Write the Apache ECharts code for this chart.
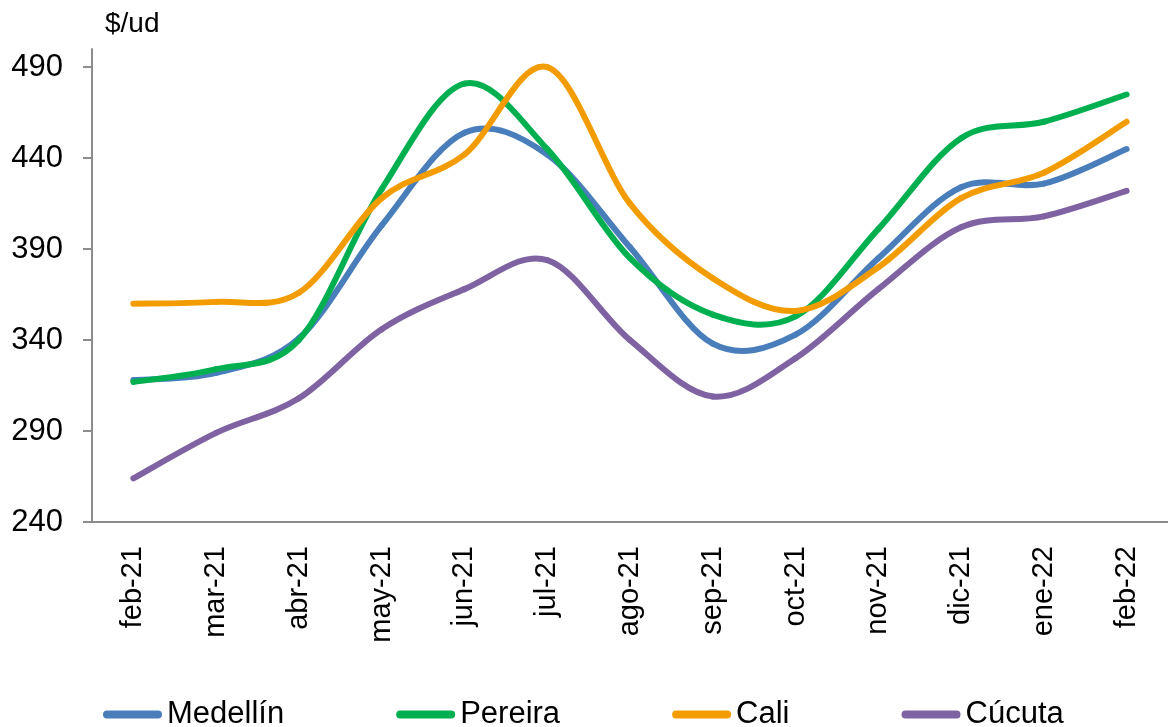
<!DOCTYPE html>
<html>
<head>
<meta charset="utf-8">
<script src="https://cdn.jsdelivr.net/npm/echarts@6/dist/echarts.min.js"></script>
<style>
  html, body { margin: 0; padding: 0; background: #fff; }
  #chart { width: 1168px; height: 727px; }
</style>
</head>
<body>
<div id="chart"></div>
<script>
// 数据
var months = ['feb-21', 'mar-21', 'abr-21', 'may-21', 'jun-21', 'jul-21', 'ago-21', 'sep-21', 'oct-21', 'nov-21', 'dic-21', 'ene-22', 'feb-22'];
var medellin = [318, 322, 341, 403, 454, 442, 391, 338, 343, 385, 424, 426, 445];
var pereira = [317, 324, 340, 423, 481, 445, 385, 354, 353, 401, 451, 460, 475];
var cali = [360, 361, 366, 418, 442, 490, 415, 374, 356, 380, 418, 432, 460];
var cucuta = [264, 289, 308, 346, 368, 384, 340, 309, 330, 368, 402, 408, 422];
var yTicks = [240, 290, 340, 390, 440, 490];

var font = 'Liberation Sans, Arial, sans-serif';
var axisGray = '#8c8c8c';

var chart = echarts.init(document.getElementById('chart'));

// 平滑曲线（类似 Excel 的平滑线），每段用贝塞尔曲线，坐标由 api.coord 换算
function smoothLine(name, values, color) {
  var n = values.length;
  return {
    name: name,
    type: 'custom',
    data: values.map(function (v, i) { return [i, v]; }),
    encode: { x: 0, y: 1 },
    itemStyle: { color: color },
    renderItem: function (params, api) {
      var i = params.dataIndex;
      if (i >= n - 1) return null;
      function pt(k) {
        k = Math.max(0, Math.min(n - 1, k));
        return api.coord([k, values[k]]);
      }
      var p0 = pt(i - 1), p1 = pt(i), p2 = pt(i + 1), p3 = pt(i + 2);
      return {
        type: 'bezierCurve',
        shape: {
          x1: p1[0], y1: p1[1],
          cpx1: p1[0] + (p2[0] - p0[0]) / 6, cpy1: p1[1] + (p2[1] - p0[1]) / 6,
          cpx2: p2[0] - (p3[0] - p1[0]) / 6, cpy2: p2[1] - (p3[1] - p1[1]) / 6,
          x2: p2[0], y2: p2[1]
        },
        style: { fill: null, stroke: color, lineWidth: 6, lineCap: 'round', lineJoin: 'round' }
      };
    }
  };
}

var capsule = 'path://M4,0 H55 A4,4 0 0 1 55,8 H4 A4,4 0 0 1 4,0 Z';

var option = {
  animation: false,
  title: {
    text: '$/ud',
    left: 105,
    top: 10,
    padding: 0,
    textStyle: { fontFamily: font, fontSize: 28, fontWeight: 'normal', color: '#000' }
  },
  grid: {
    left: 92,
    top: 49,
    bottom: 205,
    width: 1086
  },
  legend: {
    left: 103,
    top: 699,
    padding: 0,
    itemGap: 112,
    itemWidth: 59,
    itemHeight: 8,
    icon: capsule,
    textStyle: { fontFamily: font, fontSize: 31, color: '#000' },
    data: ['Medellín', 'Pereira', 'Cali', 'Cúcuta']
  },
  xAxis: {
    type: 'category',
    data: months,
    boundaryGap: true,
    axisLine: { lineStyle: { color: axisGray, width: 2 } },
    axisTick: { show: false },
    axisLabel: {
      rotate: 90,
      margin: 24,
      fontFamily: font,
      fontSize: 29,
      color: '#000'
    }
  },
  yAxis: {
    type: 'value',
    min: 240,
    max: 500,
    splitLine: { show: false },
    axisLine: { show: true, lineStyle: { color: axisGray, width: 2 } },
    axisTick: { show: true, length: 9, customValues: yTicks, lineStyle: { color: axisGray, width: 2 } },
    axisLabel: {
      customValues: yTicks,
      margin: 29,
      fontFamily: font,
      fontSize: 31,
      color: '#000'
    }
  },
  series: [
    smoothLine('Medellín', medellin, '#4a7ebb'),
    smoothLine('Pereira', pereira, '#00b050'),
    smoothLine('Cali', cali, '#f29c00'),
    smoothLine('Cúcuta', cucuta, '#7f62a1')
  ]
};

chart.setOption(option);
</script>
</body>
</html>
